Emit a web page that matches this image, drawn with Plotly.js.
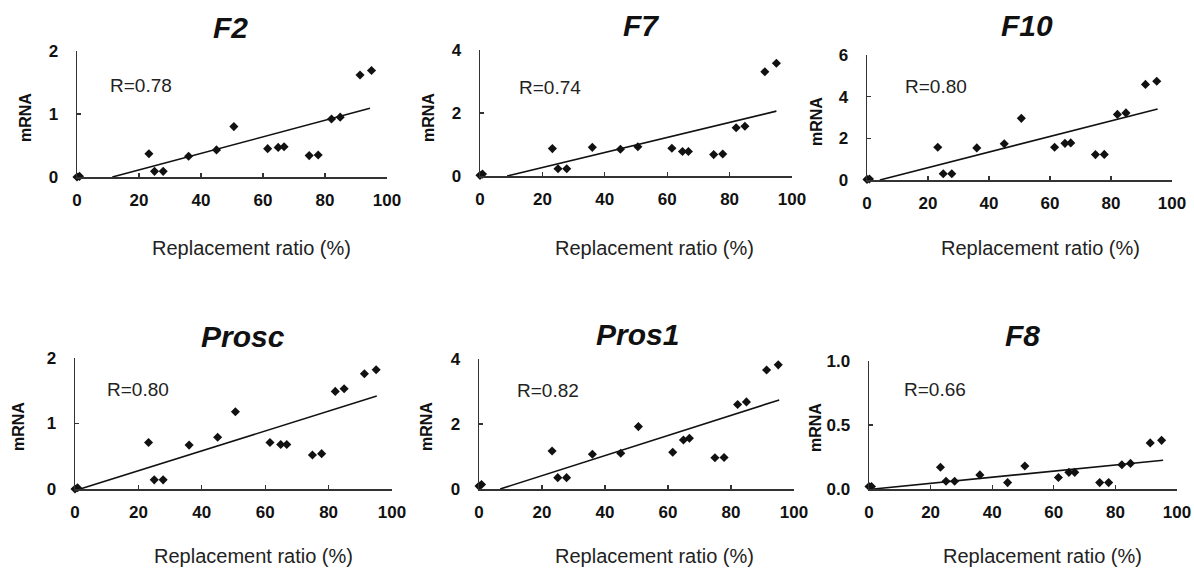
<!DOCTYPE html>
<html>
<head>
<meta charset="utf-8">
<script src="https://cdn.plot.ly/plotly-3.0.1.min.js"></script>
<style>html,body{margin:0;padding:0;background:#fff;}#chart{width:1194px;height:569px;}</style>
</head>
<body>
<div id="chart"></div>
<script>
// ---- data ----
const panelNames = ["F2", "F7", "F10", "Prosc", "Pros1", "F8"];
const rLabels = ["R=0.78", "R=0.74", "R=0.80", "R=0.80", "R=0.82", "R=0.66"];
const replacementRatio = [0, 0.8, 23.2, 25, 27.8, 36, 45, 50.6, 61.5, 64.9, 66.8, 74.9, 77.8, 82.1, 84.9, 91.3, 95];
const mrnaF2    = [0, 0.01, 0.37, 0.09, 0.09, 0.33, 0.43, 0.80, 0.45, 0.47, 0.48, 0.34, 0.35, 0.92, 0.95, 1.62, 1.69];
const mrnaF7    = [0.02, 0.06, 0.87, 0.23, 0.23, 0.91, 0.85, 0.93, 0.88, 0.78, 0.78, 0.68, 0.70, 1.53, 1.58, 3.31, 3.58];
const mrnaF10   = [0.03, 0.05, 1.57, 0.30, 0.30, 1.54, 1.74, 2.96, 1.57, 1.76, 1.78, 1.22, 1.23, 3.15, 3.22, 4.59, 4.74];
const mrnaProsc = [0, 0.02, 0.71, 0.14, 0.14, 0.67, 0.79, 1.18, 0.71, 0.68, 0.68, 0.52, 0.54, 1.49, 1.53, 1.76, 1.82];
const mrnaPros1 = [0.09, 0.14, 1.17, 0.35, 0.35, 1.07, 1.10, 1.92, 1.13, 1.51, 1.56, 0.96, 0.97, 2.60, 2.68, 3.66, 3.82];
const mrnaF8    = [0.02, 0.02, 0.17, 0.06, 0.06, 0.11, 0.05, 0.18, 0.09, 0.13, 0.13, 0.05, 0.05, 0.19, 0.20, 0.36, 0.38];
// regression line end points (x) and values (y)
const fitXF2 = [11.4, 94.5],  fitYF2 = [0, 1.09];
const fitXF7 = [8.7, 95],     fitYF7 = [0, 2.06];
const fitXF10 = [4.2, 95.3],  fitYF10 = [0, 3.41];
const fitXProsc = [1.6, 95.2], fitYProsc = [0, 1.42];
const fitXPros1 = [6.7, 95.3], fitYPros1 = [0, 2.74];
const fitXF8 = [1.5, 95.5],   fitYF8 = [0, 0.225];
const yMax = [2, 4, 6, 2, 4, 1];
const yTicks = [[0, 1, 2], [0, 2, 4], [0, 2, 4, 6], [0, 1, 2], [0, 2, 4], [0, 0.5, 1]];
const xTicks = [0, 20, 40, 60, 80, 100];
const xTitle = "Replacement ratio (%)";
const yTitle = "mRNA";

const mrna = [mrnaF2, mrnaF7, mrnaF10, mrnaProsc, mrnaPros1, mrnaF8];
const fitX = [fitXF2, fitXF7, fitXF10, fitXProsc, fitXPros1, fitXF8];
const fitY = [fitYF2, fitYF7, fitYF10, fitYProsc, fitYPros1, fitYF8];

// ---- layout (pixel geometry) ----
const W = 1194, H = 569;
// plot boxes: [x0, x1, yTop, yBottom] in pixels
const boxes = [
  [77, 387, 51, 177],
  [480, 792, 50, 176],
  [867, 1172, 55, 180],
  [75, 392, 358, 489],
  [479, 794, 359, 489],
  [869, 1177, 361, 489]
];
const titlePos = [[230, 28], [641, 25], [1027, 25], [243, 336], [637, 334], [1022, 335]];
const rPos = [[141, 85], [550, 87], [936, 86], [138, 389], [548, 390], [935, 389]];
const yTitlePos = [[25, 118], [428, 118], [816, 122], [18, 427], [426, 427], [815, 428]];
const xTitlePos = [[251, 248], [655, 248], [1040, 248], [253, 556], [655, 556], [1042, 556]];

const px = v => v / W;
const py = v => 1 - v / H;

const FONT = "Liberation Sans, Arial, sans-serif";
const INK = "#111";

const traces = [];
const layout = {
  width: W, height: H,
  margin: {l: 0, r: 0, t: 0, b: 0},
  paper_bgcolor: "#fff", plot_bgcolor: "#fff",
  showlegend: false,
  annotations: []
};

for (let i = 0; i < 6; i++) {
  const n = i + 1;
  const xa = n === 1 ? "x" : "x" + n;
  const ya = n === 1 ? "y" : "y" + n;
  const xk = n === 1 ? "xaxis" : "xaxis" + n;
  const yk = n === 1 ? "yaxis" : "yaxis" + n;
  const b = boxes[i];
  traces.push({
    type: "scatter", mode: "lines", x: fitX[i], y: fitY[i],
    xaxis: xa, yaxis: ya, line: {color: INK, width: 1.6}, cliponaxis: false, hoverinfo: "skip"
  });
  traces.push({
    type: "scatter", mode: "markers", x: replacementRatio, y: mrna[i],
    xaxis: xa, yaxis: ya, cliponaxis: false,
    marker: {symbol: "diamond", size: 7, color: INK}
  });
  layout[xk] = {
    domain: [px(b[0]), px(b[1])], anchor: ya,
    range: [0, 100], tickvals: xTicks, ticktext: xTicks.map(String),
    showgrid: false, zeroline: false, showline: true, linecolor: "#333", linewidth: 1.5,
    ticks: "inside", ticklen: 4, tickcolor: "#333", tickwidth: 1.2,
    tickfont: {family: FONT, size: 17, color: INK, weight: "bold"},
    ticklabelstandoff: 7, fixedrange: true
  };
  layout[yk] = {
    domain: [py(b[3]), py(b[2])], anchor: xa,
    range: [0, yMax[i]], tickvals: yTicks[i],
    ticktext: yTicks[i].map(v => i === 5 ? v.toFixed(1) : String(v)),
    showgrid: false, zeroline: false, showline: true, linecolor: "#333", linewidth: 1.5,
    ticks: "inside", ticklen: 4, tickcolor: "#333", tickwidth: 1.2,
    tickfont: {family: FONT, size: 17, color: INK, weight: "bold"},
    ticklabelstandoff: 14, fixedrange: true
  };
  layout.annotations.push({
    xref: "paper", yref: "paper", x: px(titlePos[i][0]), y: py(titlePos[i][1]),
    text: "<b><i>" + panelNames[i] + "</i></b>", showarrow: false,
    xanchor: "center", yanchor: "middle", font: {family: FONT, size: 30, color: INK}
  });
  layout.annotations.push({
    xref: "paper", yref: "paper", x: px(rPos[i][0]), y: py(rPos[i][1]),
    text: rLabels[i], showarrow: false,
    xanchor: "center", yanchor: "middle", font: {family: FONT, size: 19, color: "#222"}
  });
  layout.annotations.push({
    xref: "paper", yref: "paper", x: px(yTitlePos[i][0]), y: py(yTitlePos[i][1]),
    text: "<b>" + yTitle + "</b>", showarrow: false, textangle: -90,
    xanchor: "center", yanchor: "middle", font: {family: FONT, size: 16, color: INK}
  });
  layout.annotations.push({
    xref: "paper", yref: "paper", x: px(xTitlePos[i][0]), y: py(xTitlePos[i][1]),
    text: xTitle, showarrow: false,
    xanchor: "center", yanchor: "middle", font: {family: FONT, size: 20, color: "#222"}
  });
}

Plotly.newPlot("chart", traces, layout, {staticPlot: true, displayModeBar: false});
</script>
</body>
</html>
